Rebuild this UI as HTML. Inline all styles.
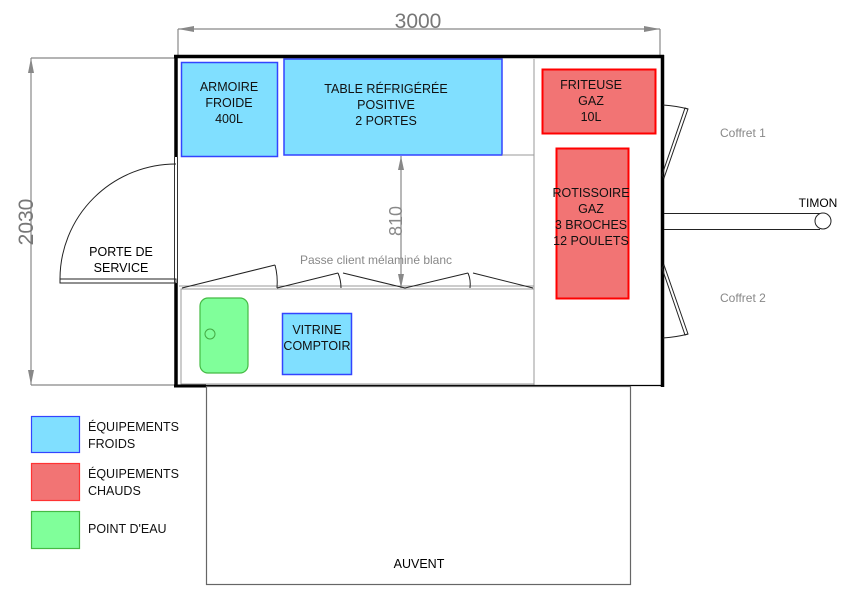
<!DOCTYPE html>
<html><head><meta charset="utf-8"><style>
html,body{margin:0;padding:0;background:#fff;}
svg{display:block;}
text{font-family:"Liberation Sans",Arial,sans-serif;}
</style></head><body>
<svg width="852" height="600" viewBox="0 0 852 600" xmlns="http://www.w3.org/2000/svg">
<!-- dimension 3000 -->
<g stroke="#888" stroke-width="1.2" fill="none">
<line x1="178" y1="29" x2="660" y2="29"/>
<line x1="178" y1="29" x2="178" y2="56"/>
<line x1="660" y1="29" x2="660" y2="56"/>
<line x1="31" y1="58" x2="176" y2="58"/>
<line x1="31" y1="385" x2="176" y2="385"/>
<line x1="31" y1="58" x2="31" y2="385"/>
<line x1="401" y1="156" x2="401" y2="288"/>
</g>
<g fill="#888">
<polygon points="178,29 194,26 194,32"/>
<polygon points="660,29 644,26 644,32"/>
<polygon points="31,58 28,73 34,73"/>
<polygon points="31,385 28,370 34,370"/>
<polygon points="401,156 398,170 404,170"/>
<polygon points="401,288 398,274 404,274"/>
</g>
<text x="418" y="28" font-size="21" fill="#777" text-anchor="middle">3000</text>
<text transform="translate(33,222) rotate(-90)" font-size="21" fill="#777" text-anchor="middle">2030</text>
<text transform="translate(402,221) rotate(-90)" font-size="18" fill="#888" text-anchor="middle">810</text>

<!-- equipment -->
<rect x="181.5" y="62.5" width="96" height="94" fill="#80dfff" stroke="#3344ff" stroke-width="1.5"/>
<rect x="284" y="59" width="218" height="96" fill="#80dfff" stroke="#3344ff" stroke-width="1.5"/>
<rect x="542.5" y="69.5" width="113" height="64" fill="#f27474" stroke="#ff0000" stroke-width="2"/>
<rect x="556.5" y="148.5" width="72" height="150" fill="#f27474" stroke="#ff0000" stroke-width="2"/>
<rect x="200" y="298" width="48" height="75" rx="8" fill="#80ff9a" stroke="#44bb44" stroke-width="1.2"/>
<circle cx="210" cy="334" r="5" fill="none" stroke="#44aa44" stroke-width="1"/>
<rect x="282.5" y="313.5" width="69" height="61" fill="#80dfff" stroke="#3344ff" stroke-width="1.5"/>

<!-- interior thin lines -->
<g stroke="#999" stroke-width="1" fill="none">
<line x1="502" y1="155" x2="534" y2="155"/>
<line x1="534" y1="59" x2="534" y2="385"/>
<line x1="179" y1="286" x2="534" y2="286"/>
<rect x="181" y="289" width="353" height="95"/>
</g>
<!-- folding doors -->
<g stroke="#222" stroke-width="1" fill="none">
<polyline points="182,288 275,265"/>
<path d="M275,265 Q278,276 277,288"/>
<polyline points="277,288 338,273"/>
<path d="M338,273 Q341,280 341,288"/>
<polyline points="343,273 405,288 468,273"/>
<path d="M468,273 Q471,280 470,288"/>
<polyline points="473,273 533,288"/>
</g>
<text x="376" y="264" font-size="12" fill="#888" text-anchor="middle">Passe client mélaminé blanc</text>

<!-- walls -->
<g stroke="#000" fill="none">
<line x1="174" y1="56.5" x2="664" y2="56.5" stroke-width="3.5"/>
<line x1="662.5" y1="55" x2="662.5" y2="387" stroke-width="3.5"/>
<line x1="176" y1="56" x2="176" y2="157" stroke-width="3.5"/>
<line x1="176" y1="283" x2="176" y2="387" stroke-width="3.5"/>
<line x1="174.5" y1="157" x2="174.5" y2="283" stroke-width="0.8"/>
<line x1="177.5" y1="157" x2="177.5" y2="283" stroke-width="0.8"/>
<line x1="174" y1="386" x2="206" y2="386" stroke-width="3"/>
<line x1="206" y1="385.5" x2="664" y2="385.5" stroke-width="1.2"/>
</g>
<!-- door -->
<g stroke="#222" stroke-width="1" fill="none">
<path d="M176,164 A116,115 0 0 0 60,279"/>
<rect x="60" y="279" width="116" height="4"/>
</g>
<text x="121" y="256" font-size="12.5" text-anchor="middle">PORTE DE</text>
<text x="121" y="272" font-size="12.5" text-anchor="middle">SERVICE</text>

<!-- coffrets & timon -->
<g stroke="#222" stroke-width="1" fill="none">
<path d="M663,105 Q677,106 688,109"/>
<polygon points="688,109 685,108 662,175 664,178"/>
<path d="M663,338 Q677,337 688,334"/>
<polygon points="688,334 685,335 662,268 664,265"/>
<line x1="664" y1="213.5" x2="820" y2="213.5"/>
<line x1="664" y1="229.5" x2="820" y2="229.5"/>
<circle cx="823" cy="221" r="8" fill="#fff"/>
</g>
<text x="720" y="137" font-size="12" fill="#888">Coffret 1</text>
<text x="720" y="302" font-size="12" fill="#888">Coffret 2</text>
<text x="818" y="207" font-size="12" text-anchor="middle">TIMON</text>

<!-- auvent -->
<rect x="206.5" y="386.5" width="424" height="198" fill="none" stroke="#666" stroke-width="1.2"/>
<text x="419" y="568" font-size="12.5" text-anchor="middle">AUVENT</text>

<!-- labels -->
<g font-size="12.5" text-anchor="middle" fill="#111">
<text x="229" y="91">ARMOIRE</text>
<text x="229" y="107">FROIDE</text>
<text x="229" y="123">400L</text>
<text x="386" y="93">TABLE RÉFRIGÉRÉE</text>
<text x="386" y="109">POSITIVE</text>
<text x="386" y="125">2 PORTES</text>
<text x="591" y="89">FRITEUSE</text>
<text x="591" y="105">GAZ</text>
<text x="591" y="121">10L</text>
<text x="591" y="197">ROTISSOIRE</text>
<text x="591" y="213">GAZ</text>
<text x="591" y="229">3 BROCHES</text>
<text x="591" y="245">12 POULETS</text>
<text x="317" y="334">VITRINE</text>
<text x="317" y="350">COMPTOIR</text>
</g>

<!-- legend -->
<rect x="31.5" y="416.5" width="48" height="36" fill="#80dfff" stroke="#3344ff" stroke-width="1.2"/>
<rect x="31.5" y="463.5" width="48" height="37" fill="#f27474" stroke="#ff3333" stroke-width="1.2"/>
<rect x="31.5" y="511.5" width="48" height="37" fill="#80ff9a" stroke="#44bb44" stroke-width="1.2"/>
<g font-size="12.5" fill="#111">
<text x="88" y="431">ÉQUIPEMENTS</text>
<text x="88" y="448">FROIDS</text>
<text x="88" y="478">ÉQUIPEMENTS</text>
<text x="88" y="495">CHAUDS</text>
<text x="88" y="533">POINT D'EAU</text>
</g>
</svg>
</body></html>
